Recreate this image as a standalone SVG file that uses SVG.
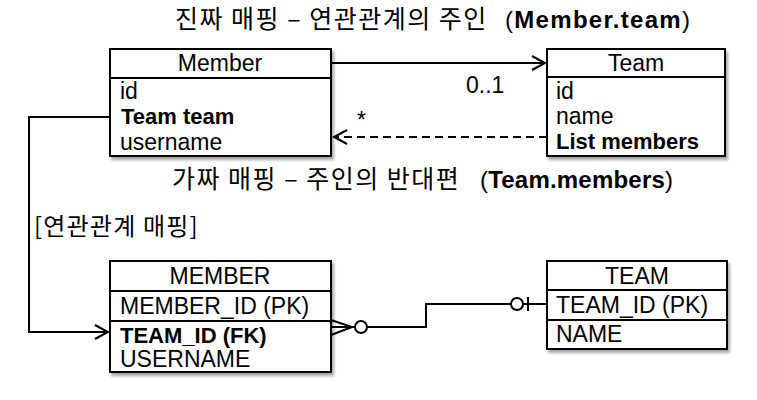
<svg xmlns="http://www.w3.org/2000/svg" width="757" height="400" viewBox="0 0 757 400">
<defs>
<filter id="sh" x="-10%" y="-10%" width="120%" height="130%">
<feDropShadow dx="2" dy="3" stdDeviation="1.5" flood-color="#000" flood-opacity="0.35"/>
</filter>
<marker id="open" markerWidth="16" markerHeight="16" refX="14" refY="8" orient="auto" markerUnits="userSpaceOnUse">
<path d="M1,1 L14,8 L1,15" fill="none" stroke="#000" stroke-width="2"/>
</marker>
</defs>
<style>
text{font-family:"Liberation Sans","Noto Sans CJK KR",sans-serif;fill:#000}
.t{font-size:23px}
.b{font-weight:700;font-size:22px}
.k{font-family:"Noto Sans CJK KR","Liberation Sans",sans-serif;font-size:25px;letter-spacing:1.5px}
.h{font-size:24px}
.hb{font-weight:700}
.box{fill:#fff;stroke:#000;stroke-width:2;filter:url(#sh)}
.ln{stroke:#000;stroke-width:2;fill:none}
.c{stroke:#000;stroke-width:2;fill:none}
</style>
<rect width="757" height="400" fill="#fff"/>
<text class="h" y="28"><tspan class="k" x="175">진짜 매핑 – 연관관계의 주인</tspan><tspan x="505" textLength="185" lengthAdjust="spacing">(<tspan class="hb">Member.team</tspan>)</tspan></text>
<text class="h" y="188"><tspan class="k" x="172">가짜 매핑 – 주인의 반대편</tspan><tspan x="480" textLength="193" lengthAdjust="spacing">(<tspan class="hb">Team.members</tspan>)</tspan></text>
<text class="k" x="34" y="235" style="font-size:24px;letter-spacing:1.2px">[연관관계 매핑]</text>
<g id="Member">
<rect class="box" x="110" y="49" width="221" height="107"/>
<line class="ln" x1="110" y1="78" x2="331" y2="78"/>
<text class="t" x="220" y="71" text-anchor="middle">Member</text>
<text class="t" x="120" y="99">id</text>
<text class="b" x="121" y="124">Team team</text>
<text class="t" x="120" y="150">username</text>
</g>
<g id="Team">
<rect class="box" x="547" y="49" width="178" height="107"/>
<line class="ln" x1="547" y1="77" x2="725" y2="77"/>
<text class="t" x="636" y="71" text-anchor="middle">Team</text>
<text class="t" x="556" y="99">id</text>
<text class="t" x="556" y="124">name</text>
<text class="b" x="556" y="149">List members</text>
</g>
<g id="MEMBER">
<rect class="box" x="110" y="261" width="221" height="111"/>
<line class="ln" x1="110" y1="291" x2="331" y2="291"/>
<line class="ln" x1="110" y1="321" x2="331" y2="321"/>
<text class="t" x="220" y="284" text-anchor="middle">MEMBER</text>
<text class="t" x="120" y="314">MEMBER_ID (PK)</text>
<text class="b" x="120" y="343">TEAM_ID (FK)</text>
<text class="t" x="120" y="367">USERNAME</text>
</g>
<g id="TEAM">
<rect class="box" x="547" y="261" width="180" height="88"/>
<line class="ln" x1="547" y1="290" x2="727" y2="290"/>
<line class="ln" x1="547" y1="320" x2="727" y2="320"/>
<text class="t" x="637" y="284" text-anchor="middle">TEAM</text>
<text class="t" x="556" y="313">TEAM_ID (PK)</text>
<text class="t" x="556" y="342">NAME</text>
</g>
<g id="connectors">
<line class="c" x1="331" y1="63" x2="545" y2="63" marker-end="url(#open)"/>
<text class="t" x="466" y="93">0..1</text>
<line class="c" x1="547" y1="137" x2="334" y2="137" stroke-dasharray="8,5" marker-end="url(#open)"/>
<text class="t" x="357" y="128">*</text>
<polyline class="c" points="110,117 29,117 29,332 108,332" marker-end="url(#open)"/>
<path class="c" d="M331,320 L352,327 L331,335 M331,327 L355,327"/>
<circle cx="361" cy="327" r="6" fill="#fff" stroke="#000" stroke-width="2"/>
<polyline class="c" points="367,327 426,327 426,304 511,304"/>
<circle cx="517" cy="304" r="6" fill="#fff" stroke="#000" stroke-width="2"/>
<line class="c" x1="523" y1="304" x2="547" y2="304"/>
<line class="c" x1="528" y1="297" x2="528" y2="311"/>
</g>
</svg>
